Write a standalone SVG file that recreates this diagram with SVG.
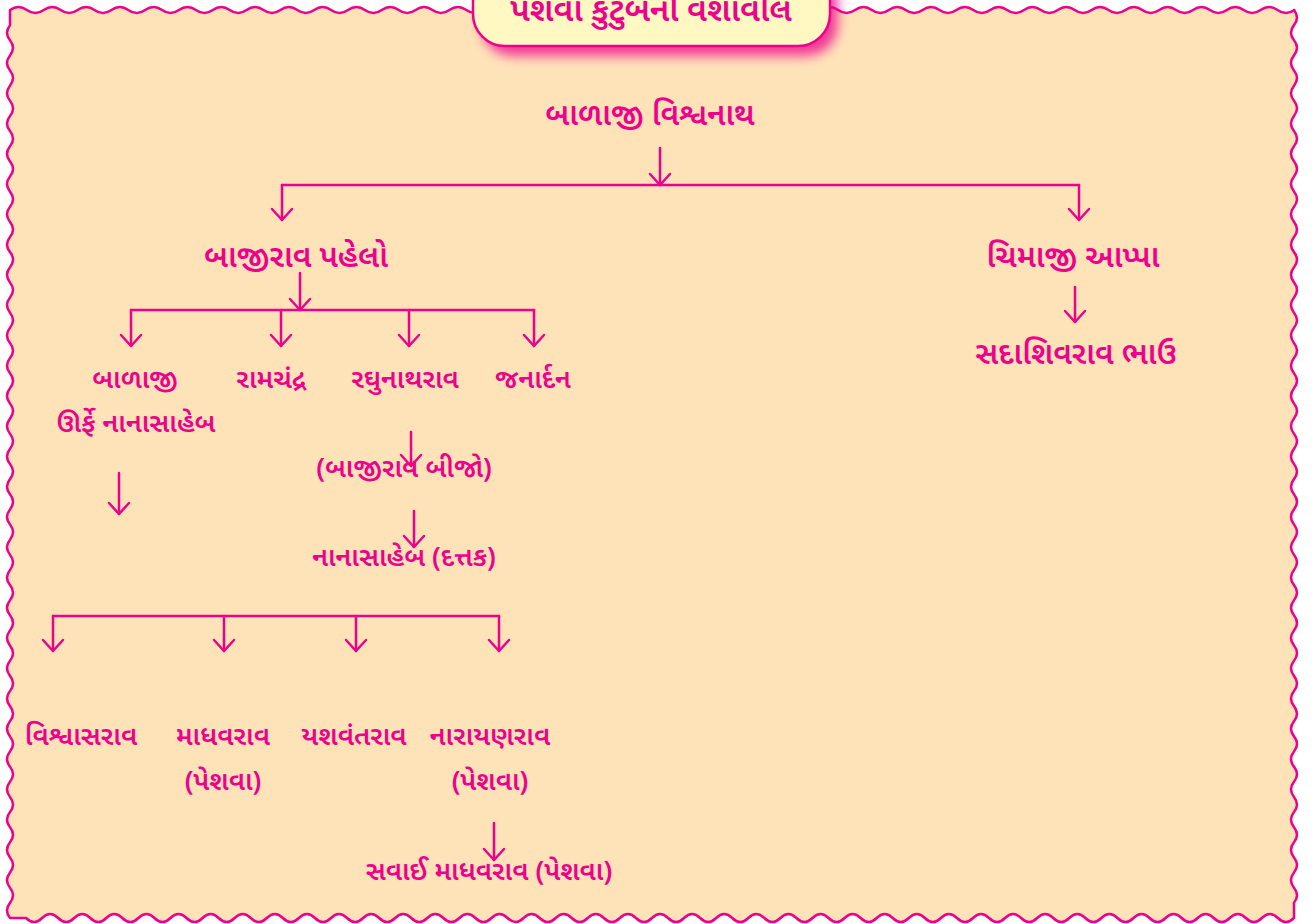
<svg xmlns="http://www.w3.org/2000/svg" width="1316" height="924" viewBox="0 0 1316 924">
<style>
.t{font-family:"Noto Sans Gujarati","Noto Sans",sans-serif;fill:#EC008C;text-anchor:middle;font-weight:600}
.big{font-size:31px}
.mid{font-size:27px}
.c{fill:none;stroke:#EC008C;stroke-width:2.5;stroke-linecap:round}
</style>
<defs>
<marker id="ah" markerUnits="userSpaceOnUse" markerWidth="30" markerHeight="30" refX="0" refY="0" viewBox="-15 -15 30 30" orient="auto" overflow="visible">
<path d="M-11,-10 L0,0 L-11,10" fill="none" stroke="#EC008C" stroke-width="2.5" stroke-linecap="round" stroke-linejoin="round"/>
</marker>
<filter id="sh" x="-20%" y="-50%" width="140%" height="200%">
<feGaussianBlur stdDeviation="6"/>
</filter>
</defs>
<rect x="0" y="0" width="1316" height="924" fill="#FFFFFF"/>
<g id="frame">
<path d="M10,10 q8.45,-6 16.9,0
t16.9,0 t16.9,0 t16.9,0 t16.9,0 t16.9,0
t16.9,0 t16.9,0 t16.9,0 t16.9,0 t16.9,0
t16.9,0 t16.9,0 t16.9,0 t16.9,0 t16.9,0
t16.9,0 t16.9,0 t16.9,0 t16.9,0 t16.9,0
t16.9,0 t16.9,0 t16.9,0 t16.9,0 t16.9,0
t16.9,0 t16.9,0 t16.9,0 t16.9,0 t16.9,0
t16.9,0 t16.9,0 t16.9,0 t16.9,0 t16.9,0
t16.9,0 t16.9,0 t16.9,0 t16.9,0 t16.9,0
t16.9,0 t16.9,0 t16.9,0 t16.9,0 t16.9,0
t16.9,0 t16.9,0 t16.9,0 t16.9,0 t16.9,0
t16.9,0 t16.9,0 t16.9,0 t16.9,0 t16.9,0
t16.9,0 t16.9,0 t16.9,0 t16.9,0 t16.9,0
t16.9,0 t16.9,0 t16.9,0 t16.9,0 t16.9,0
t16.9,0 t16.9,0 t16.9,0 t16.9,0 t16.9,0
t16.9,0 t16.9,0 t16.9,0 t16.9,0 t16.9,0
L1294,10 q6,7.567 0,15.133 t0,15.133 t0,15.133 t0,15.133 t0,15.133 t0,15.133 t0,15.133 t0,15.133 t0,15.133 t0,15.133 t0,15.133 t0,15.133 t0,15.133 t0,15.133 t0,15.133 t0,15.133 t0,15.133 t0,15.133 t0,15.133 t0,15.133 t0,15.133 t0,15.133 t0,15.133 t0,15.133 t0,15.133 t0,15.133 t0,15.133 t0,15.133 t0,15.133 t0,15.133 t0,15.133 t0,15.133 t0,15.133 t0,15.133 t0,15.133 t0,15.133 t0,15.133 t0,15.133 t0,15.133 t0,15.133 t0,15.133 t0,15.133 t0,15.133 t0,15.133 t0,15.133 t0,15.133 t0,15.133 t0,15.133 t0,15.133 t0,15.133 t0,15.133 t0,15.133 t0,15.133 t0,15.133 t0,15.133 t0,15.133 t0,15.133 t0,15.133 t0,15.133 L1294,918 q-8,8 -16.05,0 t-16.05,0 t-16.05,0 t-16.05,0 t-16.05,0 t-16.05,0 t-16.05,0 t-16.05,0 t-16.05,0 t-16.05,0 t-16.05,0 t-16.05,0 t-16.05,0 t-16.05,0 t-16.05,0 t-16.05,0 t-16.05,0 t-16.05,0 t-16.05,0 t-16.05,0 t-16.05,0 t-16.05,0 t-16.05,0 t-16.05,0 t-16.05,0 t-16.05,0 t-16.05,0 t-16.05,0 t-16.05,0 t-16.05,0 t-16.05,0 t-16.05,0 t-16.05,0 t-16.05,0 t-16.05,0 t-16.05,0 t-16.05,0 t-16.05,0 t-16.05,0 t-16.05,0 t-16.05,0 t-16.05,0 t-16.05,0 t-16.05,0 t-16.05,0 t-16.05,0 t-16.05,0 t-16.05,0 t-16.05,0 t-16.05,0 t-16.05,0 t-16.05,0 t-16.05,0 t-16.05,0 t-16.05,0 t-16.05,0 t-16.05,0 t-16.05,0 t-16.05,0 t-16.05,0 t-16.05,0 t-16.05,0 t-16.05,0 t-16.05,0 t-16.05,0 t-16.05,0 t-16.05,0 t-16.05,0 t-16.05,0 t-16.05,0 t-16.05,0 t-16.05,0 t-16.05,0 t-16.05,0 t-16.05,0 t-16.05,0 t-16.05,0 t-16.05,0 t-16.05,0 L10,918 q-6,-7.567 0,-15.133 t0,-15.133 t0,-15.133 t0,-15.133 t0,-15.133 t0,-15.133 t0,-15.133 t0,-15.133 t0,-15.133 t0,-15.133 t0,-15.133 t0,-15.133 t0,-15.133 t0,-15.133 t0,-15.133 t0,-15.133 t0,-15.133 t0,-15.133 t0,-15.133 t0,-15.133 t0,-15.133 t0,-15.133 t0,-15.133 t0,-15.133 t0,-15.133 t0,-15.133 t0,-15.133 t0,-15.133 t0,-15.133 t0,-15.133 t0,-15.133 t0,-15.133 t0,-15.133 t0,-15.133 t0,-15.133 t0,-15.133 t0,-15.133 t0,-15.133 t0,-15.133 t0,-15.133 t0,-15.133 t0,-15.133 t0,-15.133 t0,-15.133 t0,-15.133 t0,-15.133 t0,-15.133 t0,-15.133 t0,-15.133 t0,-15.133 t0,-15.133 t0,-15.133 t0,-15.133 t0,-15.133 t0,-15.133 t0,-15.133 t0,-15.133 t0,-15.133 t0,-15.133 Z" fill="#FFE3B8" stroke="#EC008C" stroke-width="2.5" stroke-linejoin="round"/>
</g>
<g id="title">
<rect x="481" y="-30" width="357" height="86" rx="32" fill="#EC008C" opacity="0.75" filter="url(#sh)"/>
<rect x="473" y="-40" width="357" height="86" rx="32" fill="#FFF8C2" stroke="#EC008C" stroke-width="2.5"/>
<text class="t" x="651" y="21" font-size="33">પેશવા  કુટુંબની  વંશાવલિ</text>
</g>
<g id="connectors" class="c">
<line x1="660" y1="148" x2="660" y2="185" marker-end="url(#ah)"/>
<line x1="282" y1="185" x2="1079" y2="185"/>
<line x1="282" y1="185" x2="282" y2="220" marker-end="url(#ah)"/>
<line x1="1079" y1="185" x2="1079" y2="220" marker-end="url(#ah)"/>
<line x1="1075" y1="287" x2="1075" y2="322" marker-end="url(#ah)"/>
<line x1="300" y1="273" x2="300" y2="310" marker-end="url(#ah)"/>
<line x1="131" y1="310" x2="534" y2="310"/>
<line x1="131" y1="310" x2="131" y2="346" marker-end="url(#ah)"/>
<line x1="281" y1="310" x2="281" y2="346" marker-end="url(#ah)"/>
<line x1="409" y1="310" x2="409" y2="346" marker-end="url(#ah)"/>
<line x1="534" y1="310" x2="534" y2="346" marker-end="url(#ah)"/>
<line x1="119" y1="473" x2="119" y2="514" marker-end="url(#ah)"/>
<line x1="411" y1="432" x2="411" y2="466" marker-end="url(#ah)"/>
<line x1="414" y1="511" x2="414" y2="547" marker-end="url(#ah)"/>
<line x1="53" y1="616" x2="499" y2="616"/>
<line x1="53" y1="616" x2="53" y2="651" marker-end="url(#ah)"/>
<line x1="224" y1="616" x2="224" y2="651" marker-end="url(#ah)"/>
<line x1="356" y1="616" x2="356" y2="651" marker-end="url(#ah)"/>
<line x1="499" y1="616" x2="499" y2="651" marker-end="url(#ah)"/>
<line x1="494" y1="823" x2="494" y2="860" marker-end="url(#ah)"/>
</g>
<g id="n-balaji-vishwanath"><text class="t big" x="650" y="125">બાળાજી  વિશ્વનાથ</text></g>
<g id="n-bajirao1"><text class="t big" x="296" y="267">બાજીરાવ પહેલો</text></g>
<g id="n-chimaji"><text class="t big" x="1073" y="267">ચિમાજી આપ્પા</text></g>
<g id="n-sadashivrao"><text class="t big" x="1076" y="364">સદાશિવરાવ  ભાઉ</text></g>
<g id="n-balaji-nanasaheb"><text class="t mid" x="135" y="388">બાળાજી</text><text class="t mid" x="136" y="432">ઊર્ફે નાનાસાહેબ</text></g>
<g id="n-ramchandra"><text class="t mid" x="271" y="388">રામચંદ્ર</text></g>
<g id="n-raghunathrao"><text class="t mid" x="405" y="388">રઘુનાથરાવ</text></g>
<g id="n-janardan"><text class="t mid" x="533" y="388">જનાર્દન</text></g>
<g id="n-bajirao2"><text class="t mid" x="404" y="477">(બાજીરાવ બીજો)</text></g>
<g id="n-nanasaheb-dattak"><text class="t mid" x="404" y="566">નાનાસાહેબ (દત્તક)</text></g>
<g id="n-vishwasrao"><text class="t mid" x="81" y="745">વિશ્વાસરાવ</text></g>
<g id="n-madhavrao"><text class="t mid" x="223" y="745">માધવરાવ</text><text class="t mid" x="223" y="790">(પેશવા)</text></g>
<g id="n-yashwantrao"><text class="t mid" x="354" y="745">યશવંતરાવ</text></g>
<g id="n-narayanrao"><text class="t mid" x="490" y="745">નારાયણરાવ</text><text class="t mid" x="490" y="790">(પેશવા)</text></g>
<g id="n-sawai-madhavrao"><text class="t mid" x="489" y="880">સવાઈ માધવરાવ (પેશવા)</text></g>
</svg>
